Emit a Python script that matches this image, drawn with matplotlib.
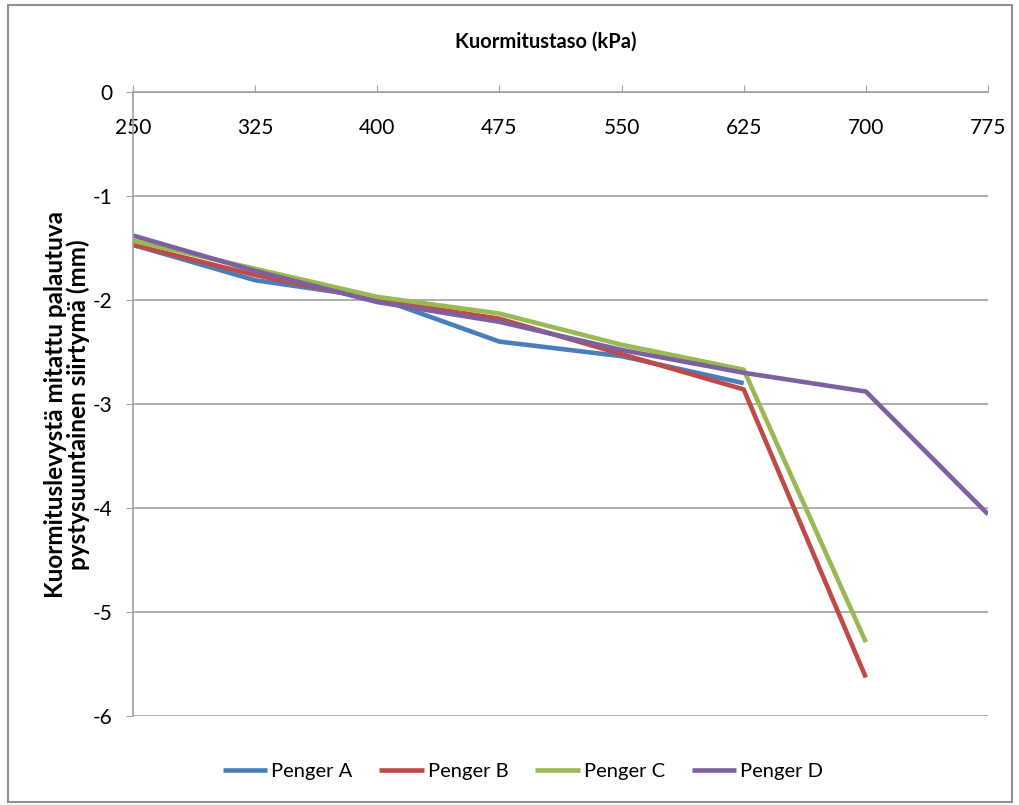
import matplotlib
matplotlib.use("Agg")
import matplotlib.pyplot as plt
from matplotlib.patches import Rectangle

loads = [250, 325, 400, 475, 550, 625, 700, 775]
penger_a = [-1.47, -1.81, -1.98, -2.40, -2.54, -2.80]
penger_b = [-1.47, -1.76, -2.00, -2.18, -2.52, -2.86, -5.63]
penger_c = [-1.43, -1.70, -1.97, -2.13, -2.43, -2.67, -5.29]
penger_d = [-1.38, -1.72, -2.02, -2.21, -2.48, -2.70, -2.88, -4.06]
series = [("Penger A", penger_a, "#4A7EBB"),
          ("Penger B", penger_b, "#BE4B48"),
          ("Penger C", penger_c, "#98B954"),
          ("Penger D", penger_d, "#7D60A0")]
yticks = [0, -1, -2, -3, -4, -5, -6]

fam = ["Lato", "DejaVu Sans"]
plt.rcParams['font.family'] = fam

fig = plt.figure(figsize=(10.2, 8.05), dpi=100)
ax = fig.add_axes([133/1020, 1-716/805, (988-133)/1020, (716-92)/805])

for name, vals, col in series:
    ax.plot(loads[:len(vals)], vals, color=col, lw=3.3, label=name, solid_capstyle='butt')

ax.set_xlim(250, 775)
ax.set_ylim(-6, 0)
ax.set_xticks(loads)
ax.set_yticks(yticks)
ax.set_yticklabels([str(v) for v in yticks])
ax.grid(axis='y', color='#A0A0A0', lw=1.2)
ax.set_axisbelow(True)
for s in ['right', 'bottom']:
    ax.spines[s].set_visible(False)
for s in ['top', 'left']:
    ax.spines[s].set_color('#A0A0A0')
    ax.spines[s].set_linewidth(1.2)
ax.tick_params(axis='x', top=True, bottom=False, labeltop=True, labelbottom=False,
               direction='out', length=5, color='#A0A0A0', pad=-38, labelsize=15)
ax.tick_params(axis='y', direction='out', length=5, color='#A0A0A0', pad=10, labelsize=15)

fig.text(546/1020, 1-42/805, "Kuormitustaso (kPa)", ha='center', va='center',
         fontsize=14.5, fontweight='bold')
fig.text(67/1020, 1-405/805, "Kuormituslevystä mitattu palautuva\npystysuuntainen siirtymä (mm)",
         ha='center', va='center', rotation=90, fontsize=17.5, fontweight='bold', linespacing=1.0)

fig.legend(loc='center', bbox_to_anchor=(523/1020, 1-771/805), ncol=4, frameon=False,
           fontsize=14.5, handlelength=2.2, handletextpad=0.2, columnspacing=1.35)

fig.patches.append(Rectangle((8/1020, 3/805), 1004/1020, 797/805, transform=fig.transFigure,
                             fill=False, edgecolor='#909090', lw=1.5))

fig.savefig("out.png", dpi=100)
